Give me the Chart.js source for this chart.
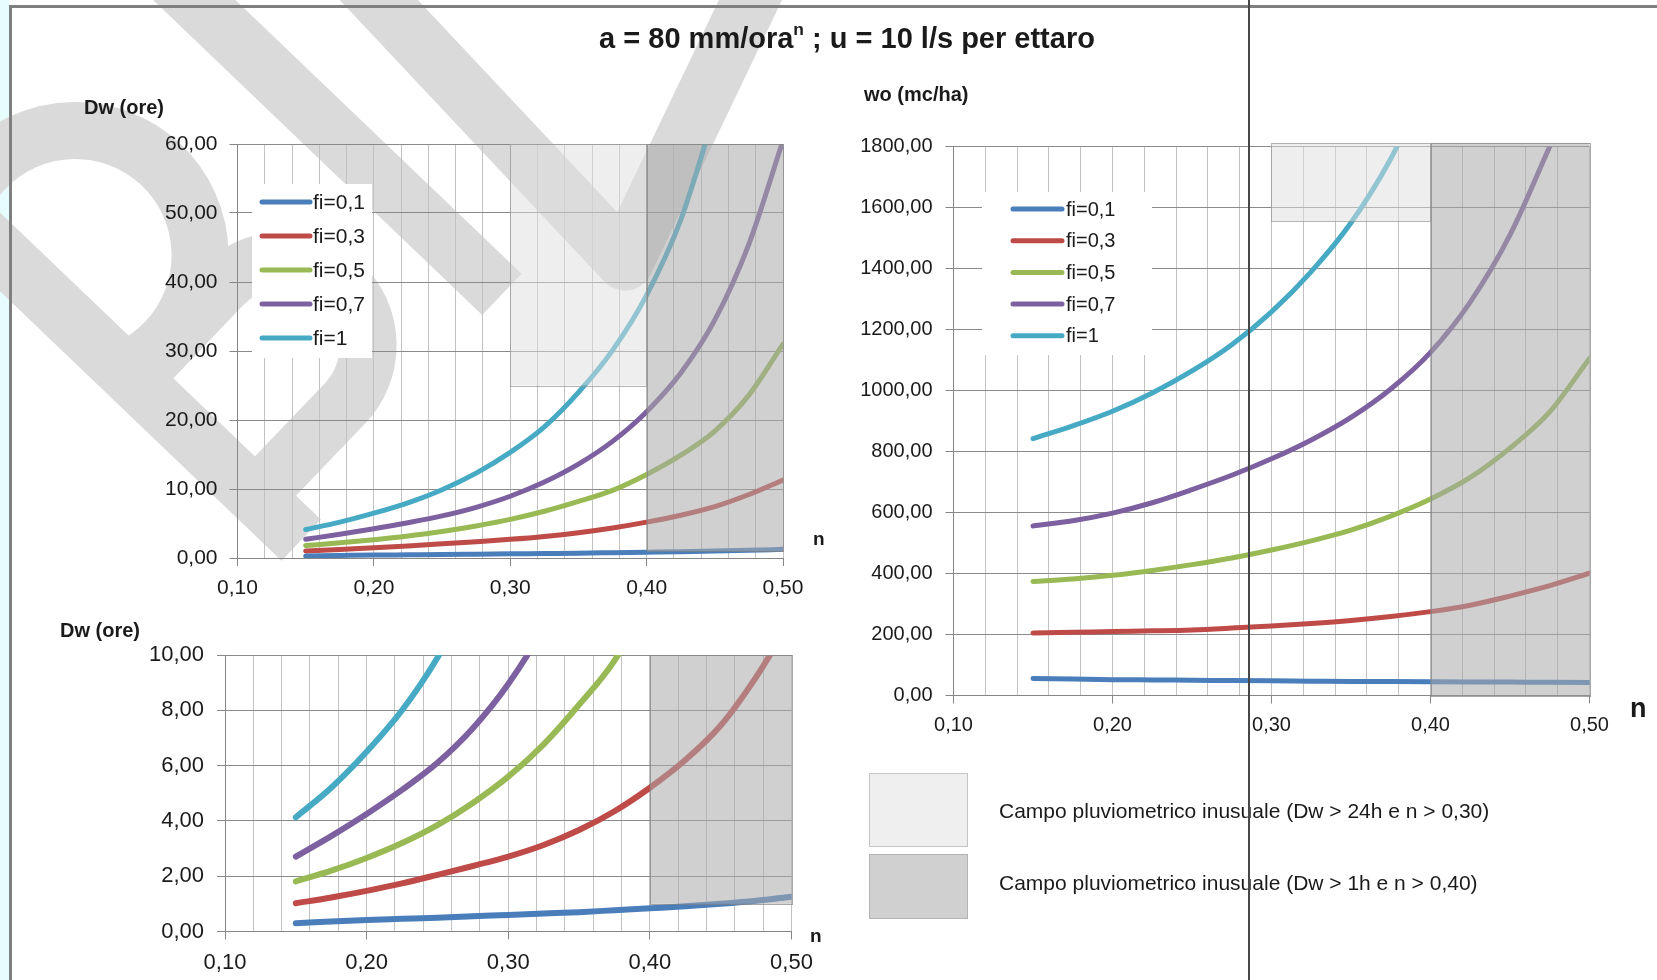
<!DOCTYPE html>
<html>
<head>
<meta charset="utf-8">
<script src="https://cdn.jsdelivr.net/npm/chart.js@4.4.1/dist/chart.umd.min.js"></script>
<style>
body { margin: 0; background: #fff; }
#pagina { position: relative; width: 1657px; height: 980px; overflow: hidden; background: #fff;
  font-family: "Liberation Sans", Arial, sans-serif; color: #1a1a1a; }
#fascia { position: absolute; left: 0; top: 0; width: 9px; height: 980px; background: #e6fcfd; }
#cornice { position: absolute; left: 9px; top: 5px; width: 1700px; height: 1000px;
  border-left: 3px solid #7f7f7f; border-top: 3px solid #7f7f7f; }
canvas { position: absolute; }
.t { position: absolute; white-space: nowrap; transform: translateY(-50%); }
.b { font-weight: bold; }
#titolo { left: 847px; top: 38px; font-size: 29px; transform: translate(-50%, -50%); }
#titolo sup { font-size: 60%; vertical-align: 0.7em; line-height: 0; }
.cella { position: absolute; box-sizing: border-box; }
#linea { position: absolute; left: 1248px; top: 0; width: 2px; height: 980px; background: #474747; z-index: 10; }
</style>
</head>
<body>
<div id="pagina">
  <div id="fascia"></div>
  <canvas id="filigrana" width="1657" height="980" style="left:0;top:0"></canvas>
  <div id="cornice"></div>

  <div id="titolo" class="t b">a = 80 mm/ora<sup>n</sup> ; u = 10 l/s per ettaro</div>

  <canvas id="graficoDw" width="700" height="490" style="left:130px;top:125px"></canvas>
  <canvas id="graficoWo" width="800" height="620" style="left:840px;top:125px"></canvas>
  <canvas id="graficoDwZoom" width="700" height="345" style="left:120px;top:635px"></canvas>

  <div class="t b" style="left:84px;top:107px;font-size:20px">Dw (ore)</div>
  <div class="t b" style="left:864px;top:94px;font-size:20px">wo (mc/ha)</div>
  <div class="t b" style="left:60px;top:630px;font-size:20px">Dw (ore)</div>
  <div class="t b" style="left:813px;top:539px;font-size:19px">n</div>
  <div class="t b" style="left:1630px;top:708px;font-size:27px">n</div>
  <div class="t b" style="left:810px;top:936px;font-size:19px">n</div>

  <div class="cella" style="left:869px;top:773px;width:99px;height:74px;background:#efefef;border:1px solid #c4c4c4"></div>
  <div class="cella" style="left:869px;top:854px;width:99px;height:65px;background:#d0d0d0;border:1px solid #b4b4b4"></div>
  <div class="t" style="left:999px;top:811px;font-size:21px">Campo pluviometrico inusuale (Dw &gt; 24h e n &gt; 0,30)</div>
  <div class="t" style="left:999px;top:883px;font-size:21px">Campo pluviometrico inusuale (Dw &gt; 1h e n &gt; 0,40)</div>

  <div id="linea"></div>
</div>

<script>
// esponente n della legge di pioggia
const nValori = [0.15, 0.175, 0.2, 0.225, 0.25, 0.275, 0.3, 0.325, 0.35, 0.375, 0.4, 0.425, 0.45, 0.475, 0.5];
const etichette = ['fi=0,1', 'fi=0,3', 'fi=0,5', 'fi=0,7', 'fi=1'];

// durata critica Dw (ore)
const dwFi01 = [0.30, 0.36, 0.42, 0.46, 0.50, 0.55, 0.60, 0.65, 0.70, 0.77, 0.84, 0.91, 1.00, 1.11, 1.26];
const dwFi03 = [1.02, 1.23, 1.47, 1.74, 2.05, 2.37, 2.71, 3.13, 3.67, 4.35, 5.20, 6.20, 7.45, 9.20, 11.3];
const dwFi05 = [1.81, 2.20, 2.66, 3.20, 3.85, 4.65, 5.60, 6.77, 8.20, 9.80, 12.1, 14.9, 18.4, 23.6, 31.0];
const dwFi07 = [2.71, 3.45, 4.25, 5.12, 6.10, 7.35, 8.95, 11.0, 13.6, 16.9, 21.2, 26.8, 34.5, 45.5, 60.5];
const dwFi1  = [4.13, 5.20, 6.50, 8.00, 9.90, 12.3, 15.3, 19.0, 24.0, 30.1, 38.1, 49.0, 64.5, null, null];

// volume specifico wo (mc/ha)
const woFi01 = [56, 54, 52, 51, 50, 49, 48, 47, 46, 45.5, 45, 44.5, 44, 43.5, 43];
const woFi03 = [205, 207, 210, 212, 215, 221, 228, 236, 246, 259, 275, 296, 326, 360, 401];
const woFi05 = [374, 382, 394, 410, 429, 451, 477, 507, 542, 588, 644, 715, 811, 930, 1105];
const woFi07 = [556, 573, 598, 632, 675, 722, 776, 838, 912, 1005, 1125, 1290, 1510, 1800, null];
const woFi1  = [842, 884, 932, 992, 1064, 1150, 1258, 1390, 1550, 1760, 2030, null, null, null, null];

// campi inusuali: [n da, n a, valore da, valore a]
const campoDw24 = [0.30, 0.40, 25, 60];
const campoDw1 = [0.40, 0.50, 1, 60];
const campoWo24 = [0.30, 0.40, 1555, 1812];
const campoWo1 = [0.40, 0.50, 0, 1812];
const campoDw1Zoom = [0.40, 0.50, 1, 10];

const colori = ['#4a7ebb', '#be4b48', '#98b954', '#7d60a0', '#46aac5'];

Chart.defaults.font.family = '"Liberation Sans", Arial, sans-serif';
Chart.defaults.color = '#1a1a1a';

function virgola(v) { return v.toFixed(2).replace('.', ','); }
function decimo(v) { return Math.abs(v * 10 - Math.round(v * 10)) < 1e-6; }

// filigrana in grigio chiaro dietro ai grafici (lettere inclinate)
function disegnaFiligrana() {
  const c = document.getElementById('filigrana').getContext('2d');
  c.strokeStyle = '#dadada';
  c.lineWidth = 57;
  c.lineJoin = 'miter';
  c.save();
  c.setTransform(0.691, -0.722, -0.722, -0.691, 263.5, 543.5);
  // asta
  c.beginPath();
  c.moveTo(28.5, -25); c.lineTo(28.5, 490);
  c.stroke();
  // occhiello superiore
  const a0 = 113 * Math.PI / 180;
  c.beginPath();
  c.arc(78, 335.5, 125, a0, -a0, true);
  c.stroke();
  // traversa e occhiello inferiore
  c.beginPath();
  c.moveTo(28.5, 208); c.lineTo(157, 208);
  c.arc(157, 123, 85, Math.PI / 2, -Math.PI / 2, true);
  c.lineTo(28.5, 38);
  c.stroke();
  // asta della lettera successiva
  c.beginPath();
  c.moveTo(345, 0); c.lineTo(345, 520);
  c.stroke();
  c.restore();
  c.lineJoin = 'round';
  c.beginPath();
  c.moveTo(360, -20); c.lineTo(625, 262); c.lineTo(760, -20);
  c.stroke();
}
disegnaFiligrana();

// campi ombreggiati sopra le curve, poi la legenda su fondo bianco
const pluginCampi = {
  id: 'campi',
  afterDatasetsDraw(chart, args, opts) {
    const { ctx, scales: { x, y } } = chart;
    ctx.save();
    (opts.zone || []).forEach(z => {
      const [n0, n1, v0, v1] = z.campo;
      const x0 = x.getPixelForValue(n0), x1 = x.getPixelForValue(n1);
      const y0 = y.getPixelForValue(v1), y1 = y.getPixelForValue(v0);
      ctx.fillStyle = z.fondo;
      ctx.fillRect(x0, y0, x1 - x0, y1 - y0);
      ctx.strokeStyle = z.bordo;
      ctx.lineWidth = 1;
      ctx.strokeRect(Math.round(x0) + 0.5, Math.round(y0) + 0.5, Math.round(x1 - x0), Math.round(y1 - y0));
    });
    ctx.restore();
  },
  afterDraw(chart, args, opts) {
    const L = opts.legenda;
    if (!L) return;
    const { ctx } = chart;
    ctx.save();
    ctx.fillStyle = '#ffffff';
    ctx.fillRect(L.x, L.y, L.w, L.h);
    ctx.font = L.font + 'px "Liberation Sans", Arial, sans-serif';
    ctx.textBaseline = 'middle';
    chart.data.datasets.forEach((ds, i) => {
      const yy = L.riga + i * L.passo;
      ctx.strokeStyle = ds.borderColor;
      ctx.lineWidth = 5;
      ctx.lineCap = 'round';
      ctx.beginPath();
      ctx.moveTo(L.lx0, yy); ctx.lineTo(L.lx1, yy);
      ctx.stroke();
      ctx.fillStyle = '#1a1a1a';
      ctx.fillText(ds.label, L.tx, yy + 1);
    });
    ctx.restore();
  }
};

function creaGrafico(id, serie, cfg) {
  return new Chart(document.getElementById(id), {
    type: 'line',
    data: {
      labels: nValori,
      datasets: serie.map((s, i) => ({
        label: etichette[i],
        data: s.map((v, k) => ({ x: nValori[k], y: v })),
        borderColor: colori[i],
        borderWidth: cfg.spessore,
        borderCapStyle: 'round',
        pointRadius: 0,
        cubicInterpolationMode: 'monotone',
        spanGaps: false
      }))
    },
    options: {
      responsive: false,
      animation: false,
      devicePixelRatio: 1,
      layout: { padding: { left: 0, top: cfg.pad.top, right: cfg.pad.right, bottom: 0 } },
      plugins: {
        legend: { display: false },
        tooltip: { enabled: false },
        campi: { zone: cfg.zone, legenda: cfg.legenda }
      },
      scales: {
        x: {
          type: 'linear', min: 0.1, max: 0.5,
          afterFit: s => { s.height = cfg.altezzaX; s.paddingLeft = 0; s.paddingRight = 0; },
          ticks: {
            stepSize: 0.02, autoSkip: false, maxRotation: 0, padding: cfg.padX,
            font: { size: cfg.font }, color: '#1a1a1a',
            callback: v => decimo(v) ? virgola(v) : ''
          },
          grid: {
            color: '#c2c2c2', lineWidth: 1, tickLength: 8,
            tickColor: c => (c.tick && decimo(c.tick.value)) ? '#868686' : 'rgba(0,0,0,0)'
          },
          border: { color: '#868686', width: 1 }
        },
        y: {
          min: 0, max: cfg.max,
          afterFit: s => { s.width = cfg.larghezzaY; s.paddingTop = 0; s.paddingBottom = 0; },
          ticks: {
            stepSize: cfg.passo, padding: cfg.padY,
            font: { size: cfg.font }, color: '#1a1a1a',
            callback: v => virgola(v)
          },
          grid: { color: '#8a8a8a', lineWidth: 1, tickLength: 8, tickColor: '#868686' },
          border: { color: '#868686', width: 1 }
        }
      }
    },
    plugins: [pluginCampi]
  });
}

const chiaro = { fondo: 'rgba(221,221,221,0.5)', bordo: 'rgba(150,150,150,0.7)' };
const scuro = { fondo: 'rgba(170,170,170,0.55)', bordo: 'rgba(130,130,130,0.7)' };

creaGrafico('graficoDw', [dwFi01, dwFi03, dwFi05, dwFi07, dwFi1], {
  max: 60, passo: 10, font: 21, spessore: 5,
  pad: { top: 19, right: 47 }, larghezzaY: 107.5, altezzaX: 57, padX: 10, padY: 12,
  zone: [Object.assign({ campo: campoDw24 }, chiaro), Object.assign({ campo: campoDw1 }, scuro)],
  legenda: { x: 122, y: 59, w: 120, h: 174, riga: 77, passo: 34, lx0: 132, lx1: 180, tx: 183, font: 21 }
});

creaGrafico('graficoWo', [woFi01, woFi03, woFi05, woFi07, woFi1], {
  max: 1800, passo: 200, font: 20, spessore: 5,
  pad: { top: 21.5, right: 50.5 }, larghezzaY: 113.5, altezzaX: 49.5, padX: 10, padY: 13,
  zone: [Object.assign({ campo: campoWo24 }, chiaro), Object.assign({ campo: campoWo1 }, scuro)],
  legenda: { x: 142, y: 67, w: 170, h: 163, riga: 84, passo: 31.7, lx0: 173, lx1: 222, tx: 226, font: 20 }
});

creaGrafico('graficoDwZoom', [dwFi01, dwFi03, dwFi05, dwFi07, dwFi1], {
  max: 10, passo: 2, font: 22, spessore: 6,
  pad: { top: 20, right: 28.5 }, larghezzaY: 105, altezzaX: 48.5, padX: 10, padY: 13,
  zone: [Object.assign({ campo: campoDw1Zoom }, scuro)],
  legenda: null
});
</script>
</body>
</html>
